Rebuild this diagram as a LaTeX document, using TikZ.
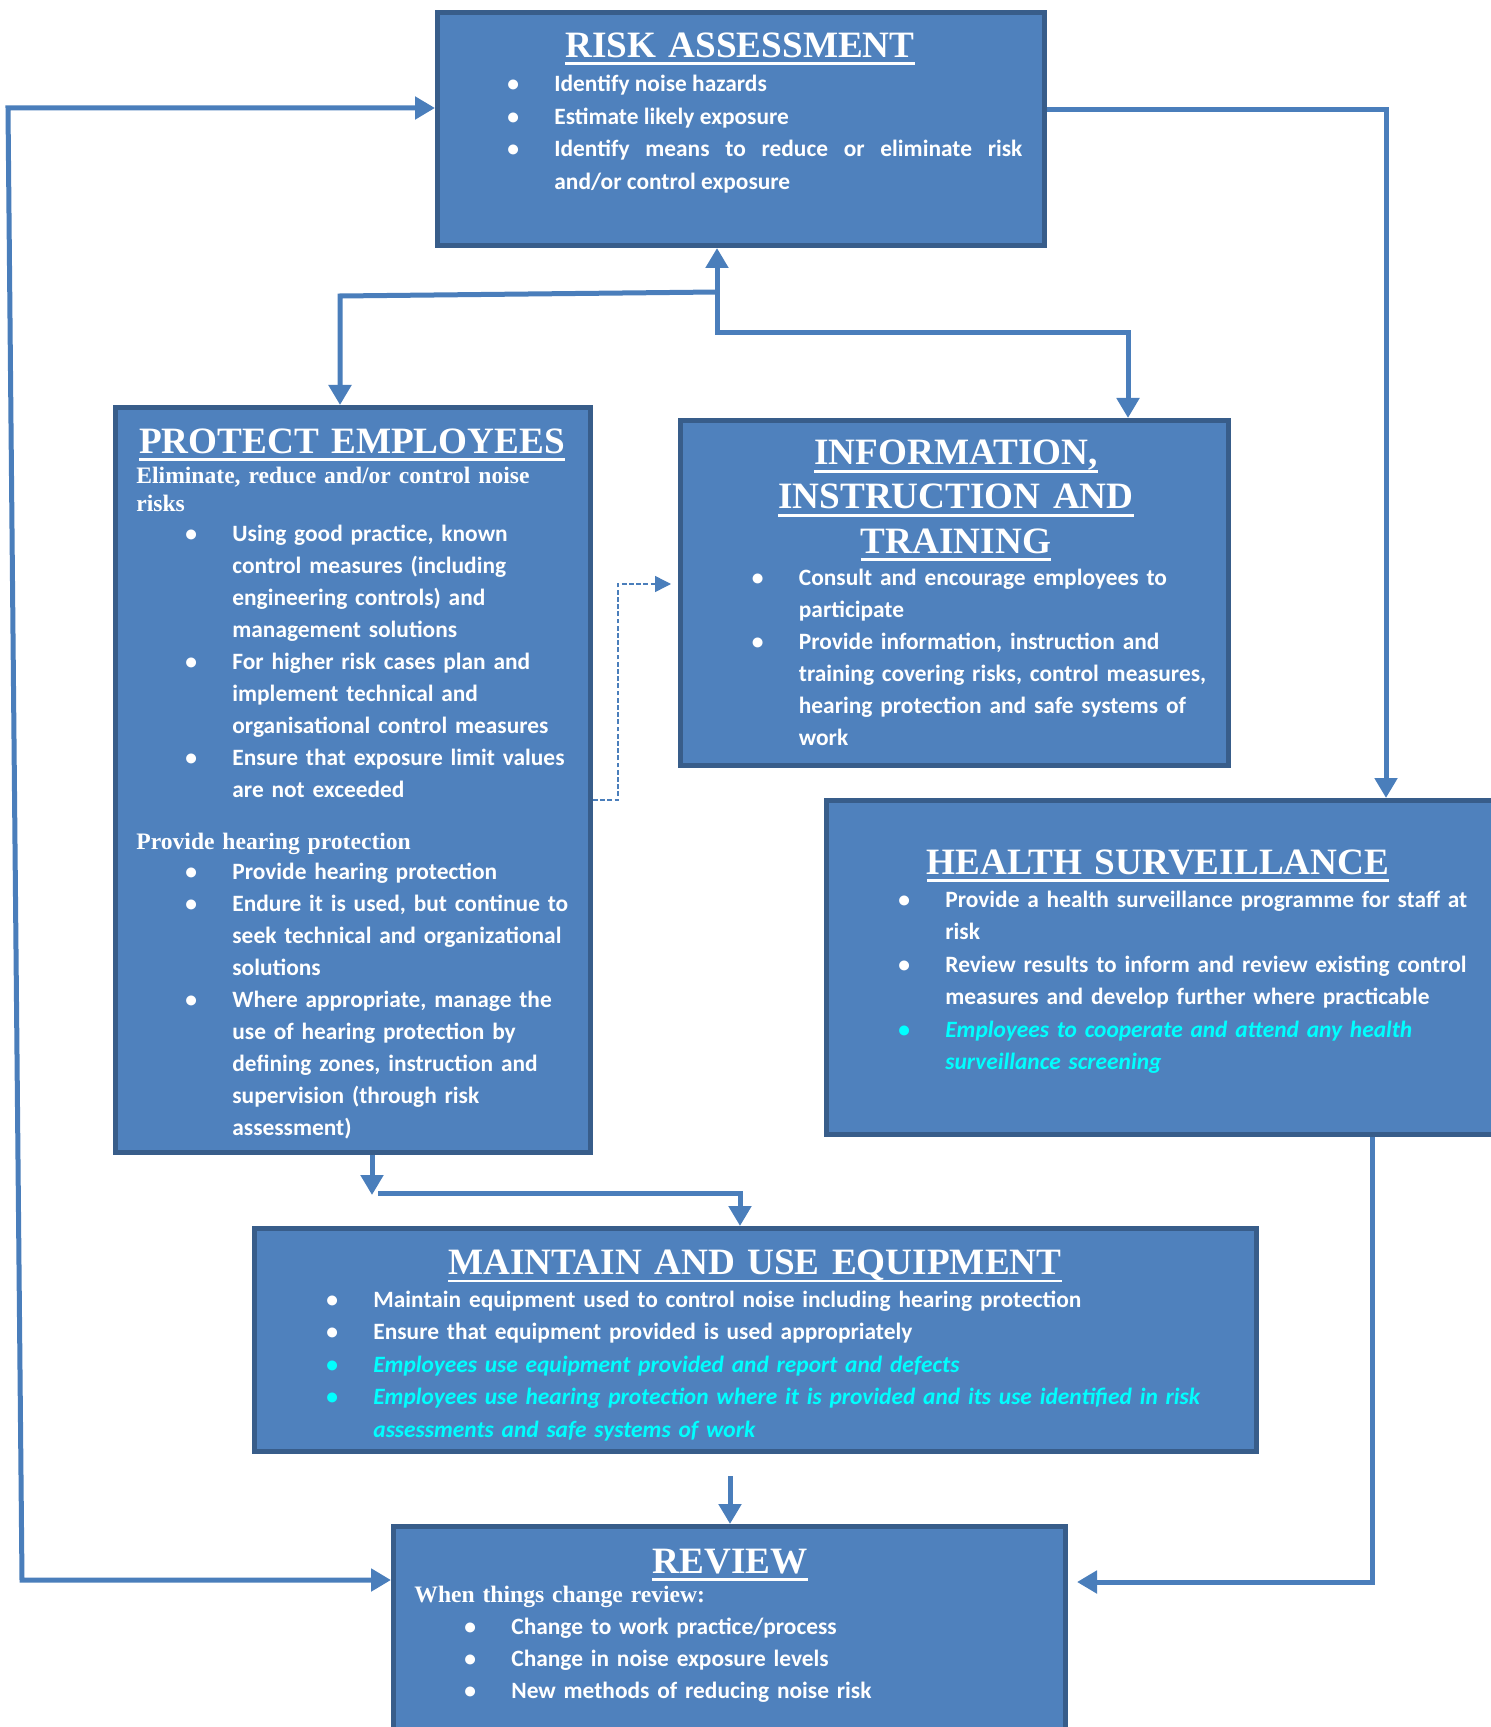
\documentclass[tikz,border=0pt]{standalone}
\usepackage{fontspec}
\setmainfont{Carlito}
\newfontfamily\headfamily{Liberation Serif}
\usetikzlibrary{positioning, arrows.meta, calc}
\definecolor{panelblue}{HTML}{4F81BD}
\definecolor{paneledge}{HTML}{385D8A}
\definecolor{linkblue}{HTML}{4A7EBB}
\definecolor{hicyan}{HTML}{00FFFF}

\newcommand{\bodyfont}{\fontsize{11.7}{16}\selectfont\bfseries}
\newcommand{\widefont}{\fontsize{11.7}{16.2}\selectfont\bfseries}
\newcommand{\riskfont}{\fontsize{11.7}{16.3}\selectfont\bfseries}
\newcommand{\titlefont}{\headfamily\bfseries\fontsize{18.6}{22}\selectfont}
\newcommand{\subfont}{\headfamily\bfseries\fontsize{11.8}{14}\selectfont}

% underlined heading
\newsavebox{\ttlbox}
\newcommand{\ttl}[1]{\leavevmode\sbox{\ttlbox}{#1}\rlap{\rule[-3.85pt]{\wd\ttlbox}{1.35pt}}\usebox{\ttlbox}}
% bullet lines
\newcommand{\bitem}[1]{\noindent\hangindent=23.5pt\hangafter=1\makebox[23.5pt][l]{\textbullet}#1\par}
\newcommand{\citem}[1]{\noindent\hangindent=23.5pt\hangafter=1\makebox[23.5pt][l]{\color{hicyan}\textbullet}{\color{hicyan}\itshape #1}\par}

\begin{document}
\begin{tikzpicture}[
    x=0.5pt, y=-0.5pt,
    >={Triangle[length=10pt, width=11pt]},
    panel/.style={draw=paneledge, fill=panelblue, line width=2.5pt, inner sep=0pt},
    heading/.style={anchor=base, inner sep=0pt, text=white, font=\titlefont, text width=#1, align=center},
    heading/.default=320pt,
    subhead/.style={anchor=base west, inner sep=0pt, text=white, font=\subfont, text width=230pt, align=left},
    body/.style={anchor=base west, inner sep=0pt, text=white, font=\bodyfont, text width=#1, align=left},
    link/.style={draw=linkblue, line width=2.5pt},
    dlink/.style={draw=linkblue, line width=0.7pt, dash pattern=on 2.4pt off 1.2pt, -{Triangle[length=8pt, width=8pt]}}
]
    \fill[white] (0,0) rectangle (1491,1727);
    \useasboundingbox (0,0) rectangle (1491,1727);

    % boxes
    \node[panel, minimum width=303.5pt, minimum height=116.5pt] (risk) at (741,129) {};
    \node[panel, minimum width=237.5pt, minimum height=372.5pt] (protect) at (353,780) {};
    \node[panel, minimum width=274pt, minimum height=172.5pt] (info) at (954.5,593) {};
    \node[panel, minimum width=335.5pt, minimum height=167pt] (health) at (1162,967.5) {};
    \node[panel, minimum width=501pt, minimum height=111.5pt] (maintain) at (755.5,1340) {};
    \node[panel, minimum width=336pt, minimum height=108pt] (review) at (729.5,1634.5) {};

    % risk assessment
    \node[heading] (risk-title) at (740,57.5) {\ttl{RISK ASSESSMENT}};
    \node[body=257.5pt, align=justify, font=\riskfont] (risk-text) at (507,91.5) {%
        \bitem{Identify noise hazards}
        \bitem{Estimate likely exposure}
        \bitem{Identify means to reduce or eliminate risk\linebreak and/or control exposure}};

    % protect employees
    \node[heading] (protect-title) at (352,453) {\ttl{PROTECT EMPLOYEES}};
    \node[subhead] (protect-sub) at (136,483) {Eliminate, reduce and/or control noise\newline risks};
    \node[body=200pt] (protect-text) at (185,541) {%
        \bitem{Using good practice, known\newline control measures (including\newline engineering controls) and\newline management solutions}
        \bitem{For higher risk cases plan and\newline implement technical and\newline organisational control measures}
        \bitem{Ensure that exposure limit values\newline are not exceeded}};
    \node[subhead] (hearing-sub) at (136,849) {Provide hearing protection};
    \node[body=200pt] (hearing-text) at (185,879) {%
        \bitem{Provide hearing protection}
        \bitem{Endure it is used, but continue to\newline seek technical and organizational\newline solutions}
        \bitem{Where appropriate, manage the\newline use of hearing protection by\newline defining zones, instruction and\newline supervision (through risk\newline assessment)}};

    % information, instruction and training
    \node[heading] (info-title) at (956,465) {\ttl{INFORMATION,}\\\ttl{INSTRUCTION AND}\\\ttl{TRAINING}};
    \node[body=240pt] (info-text) at (751.5,585) {%
        \bitem{Consult and encourage employees to\newline participate}
        \bitem{Provide information, instruction and\newline training covering risks, control measures,\newline hearing protection and safe systems of\newline work}};

    % health surveillance
    \node[heading] (health-title) at (1158,874) {\ttl{HEALTH SURVEILLANCE}};
    \node[body=295pt, font=\widefont] (health-text) at (898,907.5) {%
        \bitem{Provide a health surveillance programme for staff at\newline risk}
        \bitem{Review results to inform and review existing control\newline measures and develop further where practicable}
        \citem{Employees to cooperate and attend any health\newline surveillance screening}};

    % maintain and use equipment
    \node[heading=480pt] (maintain-title) at (755,1274.5) {\ttl{MAINTAIN AND USE EQUIPMENT}};
    \node[body=460pt, font=\widefont] (maintain-text) at (326,1307.5) {%
        \bitem{Maintain equipment used to control noise including hearing protection}
        \bitem{Ensure that equipment provided is used appropriately}
        \citem{Employees use equipment provided and report and defects}
        \citem{Employees use hearing protection where it is provided and its use identified in risk\newline assessments and safe systems of work}};

    % review
    \node[heading] (review-title) at (730,1573) {\ttl{REVIEW}};
    \node[subhead] (review-sub) at (414,1602) {When things change review:};
    \node[body=280pt, font=\widefont] (review-text) at (464,1634) {%
        \bitem{Change to work practice/process}
        \bitem{Change in noise exposure levels}
        \bitem{New methods of reducing noise risk}};

    % connectors
    \coordinate (lt) at (8,108);
    \coordinate (lb) at (22,1580);
    \draw[link, <->] (review.west |- lb) -- (lb) -- (lt) -- (risk.west |- lt);

    \coordinate (rt) at (1386,110);
    \draw[link, ->] (risk.east |- rt) -- (rt) -- (health.north -| rt);
    \coordinate (rb) at (1372,1582);
    \draw[link, ->, shorten >=4.5pt] (health.south -| rb) -- (rb) -- (review.east |- rb);

    \coordinate (fork) at (717,292);
    \coordinate (pl) at (340,296);
    \coordinate (fork2) at (717,333);
    \coordinate (ir) at (1128,333);
    \draw[link, <->] (risk.south -| fork2) -- (fork2) -- (ir) -- (info.north -| ir);
    \draw[link, ->] (fork) -- (pl) -- (protect.north -| pl);

    \coordinate (pm) at (372,1195);
    \draw[link, ->] (protect.south -| pm) -- (pm);
    \coordinate (pm2) at (378,1193);
    \coordinate (mt) at (740,1193);
    \draw[link, ->] (pm2) -- (mt) -- (maintain.north -| mt);

    \coordinate (mr) at (730,1476);
    \draw[link, ->] (mr) -- (review.north -| mr);

    \coordinate (d1) at (618,800);
    \coordinate (d2) at (618,584);
    \draw[dlink, shorten >=3.5pt] (protect.east |- d1) -- (d1) -- (d2) -- (info.west |- d2);
\end{tikzpicture}
\end{document}
